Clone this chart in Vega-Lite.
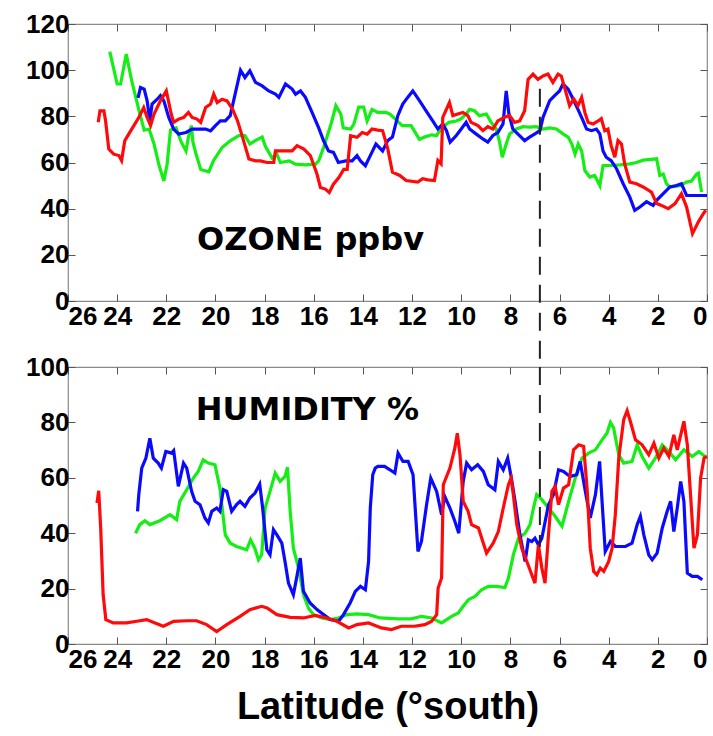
{
"$schema":"https://vega.github.io/schema/vega-lite/v6.json",
"background":"white",
"padding":{"left":25,"top":10,"right":0,"bottom":0},
"bounds":"flush",
"spacing":66,
"datasets":{
"ozone":[
{"c":"g","lat":24.3,"val":108},{"c":"g","lat":24.0,"val":94},{"c":"g","lat":23.86,"val":94},{"c":"g","lat":23.63,"val":107},{"c":"g","lat":23.4,"val":95},{"c":"g","lat":23.1,"val":82},{"c":"g","lat":22.9,"val":74},{"c":"g","lat":22.7,"val":74.5},{"c":"g","lat":22.5,"val":68},{"c":"g","lat":22.3,"val":59},{"c":"g","lat":22.1,"val":52},{"c":"g","lat":21.97,"val":59},{"c":"g","lat":21.83,"val":74},{"c":"g","lat":21.6,"val":75},{"c":"g","lat":21.4,"val":69},{"c":"g","lat":21.2,"val":65},{"c":"g","lat":21.1,"val":71},{"c":"g","lat":20.98,"val":76},{"c":"g","lat":20.92,"val":69},{"c":"g","lat":20.8,"val":64},{"c":"g","lat":20.6,"val":57},{"c":"g","lat":20.27,"val":56},{"c":"g","lat":20.07,"val":61},{"c":"g","lat":19.73,"val":66.5},{"c":"g","lat":19.4,"val":69.4},{"c":"g","lat":19.05,"val":71.6},{"c":"g","lat":18.8,"val":71.6},{"c":"g","lat":18.6,"val":68},{"c":"g","lat":18.4,"val":69.4},{"c":"g","lat":18.1,"val":71},{"c":"g","lat":17.97,"val":67},{"c":"g","lat":17.7,"val":62},{"c":"g","lat":17.5,"val":63.6},{"c":"g","lat":17.36,"val":60},{"c":"g","lat":17.0,"val":60.7},{"c":"g","lat":16.75,"val":59.3},{"c":"g","lat":16.34,"val":59},{"c":"g","lat":15.93,"val":59.3},{"c":"g","lat":15.8,"val":60.7},{"c":"g","lat":15.6,"val":66.5},{"c":"g","lat":15.3,"val":76.6},{"c":"g","lat":15.1,"val":84.6},{"c":"g","lat":14.9,"val":81},{"c":"g","lat":14.8,"val":75},{"c":"g","lat":14.5,"val":74.5},{"c":"g","lat":14.37,"val":76.6},{"c":"g","lat":14.17,"val":84},{"c":"g","lat":13.97,"val":84},{"c":"g","lat":13.83,"val":78},{"c":"g","lat":13.63,"val":83},{"c":"g","lat":13.4,"val":81.7},{"c":"g","lat":13.06,"val":81.7},{"c":"g","lat":12.9,"val":81},{"c":"g","lat":12.7,"val":79},{"c":"g","lat":12.4,"val":76},{"c":"g","lat":12.04,"val":76},{"c":"g","lat":11.7,"val":70},{"c":"g","lat":11.5,"val":71},{"c":"g","lat":11.2,"val":72},{"c":"g","lat":11.0,"val":71.7},{"c":"g","lat":10.8,"val":75},{"c":"g","lat":10.5,"val":77.4},{"c":"g","lat":10.2,"val":78},{"c":"g","lat":10.0,"val":79},{"c":"g","lat":9.8,"val":81},{"c":"g","lat":9.66,"val":83},{"c":"g","lat":9.46,"val":82.4},{"c":"g","lat":9.26,"val":80.3},{"c":"g","lat":8.98,"val":81},{"c":"g","lat":8.78,"val":77.4},{"c":"g","lat":8.58,"val":74.5},{"c":"g","lat":8.44,"val":68.8},{"c":"g","lat":8.33,"val":62.3},{"c":"g","lat":8.17,"val":68},{"c":"g","lat":8.03,"val":72.4},{"c":"g","lat":7.76,"val":74.5},{"c":"g","lat":7.49,"val":75.5},{"c":"g","lat":7.22,"val":75.3},{"c":"g","lat":6.95,"val":75.5},{"c":"g","lat":6.67,"val":74.5},{"c":"g","lat":6.4,"val":75},{"c":"g","lat":6.13,"val":74.5},{"c":"g","lat":5.86,"val":72.4},{"c":"g","lat":5.65,"val":71},{"c":"g","lat":5.5,"val":68},{"c":"g","lat":5.37,"val":63.7},{"c":"g","lat":5.24,"val":68},{"c":"g","lat":5.1,"val":65},{"c":"g","lat":4.97,"val":56.5},{"c":"g","lat":4.77,"val":53.7},{"c":"g","lat":4.57,"val":54.4},{"c":"g","lat":4.36,"val":50},{"c":"g","lat":4.23,"val":58.7},{"c":"g","lat":3.96,"val":58.7},{"c":"g","lat":3.55,"val":59},{"c":"g","lat":3.14,"val":59.4},{"c":"g","lat":2.87,"val":60},{"c":"g","lat":2.6,"val":61},{"c":"g","lat":2.05,"val":61.6},{"c":"g","lat":1.92,"val":54.4},{"c":"g","lat":1.78,"val":55},{"c":"g","lat":1.65,"val":50.8},{"c":"g","lat":1.51,"val":49.4},{"c":"g","lat":1.1,"val":50},{"c":"g","lat":0.83,"val":51.5},{"c":"g","lat":0.63,"val":52},{"c":"g","lat":0.42,"val":55},{"c":"g","lat":0.35,"val":55.4},{"c":"g","lat":0.22,"val":47.2},
{"c":"b","lat":23.15,"val":88},{"c":"b","lat":23.05,"val":92.5},{"c":"b","lat":22.9,"val":91.8},{"c":"b","lat":22.78,"val":86.7},{"c":"b","lat":22.67,"val":78},{"c":"b","lat":22.58,"val":85.3},{"c":"b","lat":22.37,"val":87.4},{"c":"b","lat":22.24,"val":89},{"c":"b","lat":22.1,"val":86.7},{"c":"b","lat":21.9,"val":79.5},{"c":"b","lat":21.7,"val":74.5},{"c":"b","lat":21.5,"val":72.3},{"c":"b","lat":21.2,"val":73},{"c":"b","lat":20.95,"val":74.5},{"c":"b","lat":20.68,"val":74.5},{"c":"b","lat":20.4,"val":74.5},{"c":"b","lat":20.2,"val":73.7},{"c":"b","lat":20.0,"val":76},{"c":"b","lat":19.8,"val":78},{"c":"b","lat":19.6,"val":78},{"c":"b","lat":19.4,"val":80.3},{"c":"b","lat":19.2,"val":89.6},{"c":"b","lat":18.98,"val":100},{"c":"b","lat":18.8,"val":96.8},{"c":"b","lat":18.6,"val":99.7},{"c":"b","lat":18.37,"val":94.7},{"c":"b","lat":18.1,"val":93.2},{"c":"b","lat":17.83,"val":91},{"c":"b","lat":17.56,"val":89.6},{"c":"b","lat":17.42,"val":88.2},{"c":"b","lat":17.15,"val":94},{"c":"b","lat":16.88,"val":91.8},{"c":"b","lat":16.74,"val":89.6},{"c":"b","lat":16.54,"val":91},{"c":"b","lat":16.34,"val":88.2},{"c":"b","lat":16.07,"val":81.7},{"c":"b","lat":15.8,"val":75},{"c":"b","lat":15.6,"val":69.4},{"c":"b","lat":15.4,"val":65},{"c":"b","lat":15.2,"val":64.4},{"c":"b","lat":15.0,"val":60},{"c":"b","lat":14.7,"val":60.7},{"c":"b","lat":14.44,"val":60.7},{"c":"b","lat":14.24,"val":63},{"c":"b","lat":14.1,"val":60.7},{"c":"b","lat":13.9,"val":58.6},{"c":"b","lat":13.7,"val":63},{"c":"b","lat":13.47,"val":68},{"c":"b","lat":13.2,"val":65},{"c":"b","lat":12.99,"val":69.5},{"c":"b","lat":12.8,"val":71},{"c":"b","lat":12.58,"val":80.3},{"c":"b","lat":12.38,"val":85.3},{"c":"b","lat":12.18,"val":88.2},{"c":"b","lat":11.97,"val":91},{"c":"b","lat":11.7,"val":86.8},{"c":"b","lat":11.43,"val":82.4},{"c":"b","lat":11.16,"val":78},{"c":"b","lat":10.95,"val":74.5},{"c":"b","lat":10.75,"val":76.7},{"c":"b","lat":10.6,"val":73.8},{"c":"b","lat":10.45,"val":68.8},{"c":"b","lat":10.2,"val":71.7},{"c":"b","lat":10.0,"val":74.5},{"c":"b","lat":9.8,"val":77.4},{"c":"b","lat":9.66,"val":74.5},{"c":"b","lat":9.4,"val":72.4},{"c":"b","lat":9.12,"val":70.2},{"c":"b","lat":8.92,"val":68.8},{"c":"b","lat":8.71,"val":71.7},{"c":"b","lat":8.51,"val":73},{"c":"b","lat":8.3,"val":76.7},{"c":"b","lat":8.17,"val":91},{"c":"b","lat":8.06,"val":81},{"c":"b","lat":7.9,"val":74.5},{"c":"b","lat":7.7,"val":72.4},{"c":"b","lat":7.42,"val":69.5},{"c":"b","lat":7.22,"val":71},{"c":"b","lat":7.0,"val":72.4},{"c":"b","lat":6.8,"val":73.8},{"c":"b","lat":6.67,"val":79.6},{"c":"b","lat":6.4,"val":86.8},{"c":"b","lat":6.2,"val":89},{"c":"b","lat":6.0,"val":91},{"c":"b","lat":5.86,"val":94},{"c":"b","lat":5.65,"val":91.8},{"c":"b","lat":5.45,"val":87.5},{"c":"b","lat":5.25,"val":83},{"c":"b","lat":5.04,"val":78},{"c":"b","lat":4.9,"val":74.5},{"c":"b","lat":4.7,"val":73.8},{"c":"b","lat":4.5,"val":74.5},{"c":"b","lat":4.36,"val":72.4},{"c":"b","lat":4.23,"val":65},{"c":"b","lat":4.1,"val":62.3},{"c":"b","lat":3.9,"val":60.8},{"c":"b","lat":3.68,"val":57.3},{"c":"b","lat":3.41,"val":50.8},{"c":"b","lat":3.14,"val":45},{"c":"b","lat":2.94,"val":39.3},{"c":"b","lat":2.73,"val":40.7},{"c":"b","lat":2.46,"val":43},{"c":"b","lat":2.19,"val":41.4},{"c":"b","lat":2.05,"val":43.6},{"c":"b","lat":1.78,"val":46.5},{"c":"b","lat":1.51,"val":49.4},{"c":"b","lat":1.24,"val":50},{"c":"b","lat":1.04,"val":50.8},{"c":"b","lat":0.83,"val":45.7},{"c":"b","lat":0.42,"val":45.7},{"c":"b","lat":0.0,"val":45.7},
{"c":"r","lat":24.77,"val":77.4},{"c":"r","lat":24.7,"val":82.4},{"c":"r","lat":24.54,"val":82.4},{"c":"r","lat":24.47,"val":78},{"c":"r","lat":24.34,"val":65.8},{"c":"r","lat":24.14,"val":63.6},{"c":"r","lat":23.93,"val":63},{"c":"r","lat":23.82,"val":60.8},{"c":"r","lat":23.69,"val":69.4},{"c":"r","lat":23.53,"val":72.3},{"c":"r","lat":23.32,"val":76},{"c":"r","lat":23.12,"val":79.5},{"c":"r","lat":22.92,"val":83.8},{"c":"r","lat":22.78,"val":79.5},{"c":"r","lat":22.64,"val":76},{"c":"r","lat":22.5,"val":81},{"c":"r","lat":22.24,"val":86.7},{"c":"r","lat":22.0,"val":91},{"c":"r","lat":21.8,"val":81},{"c":"r","lat":21.7,"val":77.4},{"c":"r","lat":21.5,"val":78.8},{"c":"r","lat":21.3,"val":79.5},{"c":"r","lat":21.1,"val":81.7},{"c":"r","lat":20.95,"val":79.5},{"c":"r","lat":20.75,"val":78.8},{"c":"r","lat":20.6,"val":77.4},{"c":"r","lat":20.4,"val":83.8},{"c":"r","lat":20.2,"val":85.3},{"c":"r","lat":20.07,"val":89.6},{"c":"r","lat":19.93,"val":86},{"c":"r","lat":19.73,"val":87.4},{"c":"r","lat":19.53,"val":86.7},{"c":"r","lat":19.3,"val":83},{"c":"r","lat":19.1,"val":78},{"c":"r","lat":18.9,"val":71},{"c":"r","lat":18.64,"val":61.5},{"c":"r","lat":18.37,"val":60.7},{"c":"r","lat":18.17,"val":60.7},{"c":"r","lat":17.9,"val":60},{"c":"r","lat":17.63,"val":60},{"c":"r","lat":17.56,"val":65},{"c":"r","lat":17.3,"val":65},{"c":"r","lat":16.88,"val":65},{"c":"r","lat":16.68,"val":67.3},{"c":"r","lat":16.4,"val":65.8},{"c":"r","lat":16.14,"val":63},{"c":"r","lat":15.87,"val":55},{"c":"r","lat":15.73,"val":49.2},{"c":"r","lat":15.53,"val":48.5},{"c":"r","lat":15.37,"val":47},{"c":"r","lat":15.2,"val":50.6},{"c":"r","lat":14.98,"val":53.5},{"c":"r","lat":14.78,"val":57},{"c":"r","lat":14.64,"val":57},{"c":"r","lat":14.5,"val":71.6},{"c":"r","lat":14.24,"val":70.9},{"c":"r","lat":14.03,"val":73},{"c":"r","lat":13.83,"val":72.3},{"c":"r","lat":13.63,"val":74.5},{"c":"r","lat":13.4,"val":74},{"c":"r","lat":13.2,"val":73.8},{"c":"r","lat":12.99,"val":66},{"c":"r","lat":12.8,"val":55.8},{"c":"r","lat":12.5,"val":54.4},{"c":"r","lat":12.24,"val":52.2},{"c":"r","lat":11.77,"val":51.5},{"c":"r","lat":11.57,"val":53},{"c":"r","lat":11.36,"val":52.5},{"c":"r","lat":11.09,"val":52.2},{"c":"r","lat":10.95,"val":60.9},{"c":"r","lat":10.82,"val":59.4},{"c":"r","lat":10.75,"val":79.6},{"c":"r","lat":10.48,"val":86},{"c":"r","lat":10.34,"val":80.3},{"c":"r","lat":10.14,"val":81},{"c":"r","lat":9.93,"val":81.7},{"c":"r","lat":9.73,"val":80.3},{"c":"r","lat":9.6,"val":77.4},{"c":"r","lat":9.32,"val":76},{"c":"r","lat":9.12,"val":73.8},{"c":"r","lat":8.92,"val":75.5},{"c":"r","lat":8.71,"val":74.5},{"c":"r","lat":8.51,"val":78},{"c":"r","lat":8.24,"val":79.6},{"c":"r","lat":8.03,"val":80.3},{"c":"r","lat":7.83,"val":77.4},{"c":"r","lat":7.62,"val":78},{"c":"r","lat":7.42,"val":82.4},{"c":"r","lat":7.28,"val":96},{"c":"r","lat":7.08,"val":98.3},{"c":"r","lat":6.88,"val":96},{"c":"r","lat":6.67,"val":97.5},{"c":"r","lat":6.47,"val":98.3},{"c":"r","lat":6.27,"val":94.7},{"c":"r","lat":6.06,"val":98.3},{"c":"r","lat":5.93,"val":97.5},{"c":"r","lat":5.72,"val":89.6},{"c":"r","lat":5.59,"val":84.6},{"c":"r","lat":5.42,"val":87.5},{"c":"r","lat":5.25,"val":84.6},{"c":"r","lat":5.1,"val":88.2},{"c":"r","lat":4.97,"val":81.7},{"c":"r","lat":4.84,"val":77.4},{"c":"r","lat":4.63,"val":76.7},{"c":"r","lat":4.43,"val":78},{"c":"r","lat":4.3,"val":79},{"c":"r","lat":4.16,"val":73.8},{"c":"r","lat":4.03,"val":74.5},{"c":"r","lat":3.9,"val":67.3},{"c":"r","lat":3.75,"val":62.3},{"c":"r","lat":3.62,"val":69.5},{"c":"r","lat":3.48,"val":68},{"c":"r","lat":3.35,"val":59.4},{"c":"r","lat":3.14,"val":51.5},{"c":"r","lat":2.87,"val":50.8},{"c":"r","lat":2.6,"val":49.4},{"c":"r","lat":2.26,"val":47.2},{"c":"r","lat":2.05,"val":42.2},{"c":"r","lat":1.85,"val":41.4},{"c":"r","lat":1.58,"val":40},{"c":"r","lat":1.3,"val":42.2},{"c":"r","lat":1.04,"val":46.5},{"c":"r","lat":0.83,"val":40.7},{"c":"r","lat":0.59,"val":29.2},{"c":"r","lat":0.35,"val":34.3},{"c":"r","lat":0.15,"val":37.8},{"c":"r","lat":0.05,"val":39.3}
],
"humidity":[
{"c":"g","lat":23.25,"val":40},{"c":"g","lat":23.08,"val":43.1},{"c":"g","lat":22.87,"val":44.5},{"c":"g","lat":22.67,"val":43.1},{"c":"g","lat":22.26,"val":44.5},{"c":"g","lat":21.85,"val":46.7},{"c":"g","lat":21.58,"val":44.9},{"c":"g","lat":21.45,"val":51.5},{"c":"g","lat":21.17,"val":55.7},{"c":"g","lat":20.9,"val":59.9},{"c":"g","lat":20.7,"val":62.3},{"c":"g","lat":20.5,"val":66.5},{"c":"g","lat":20.29,"val":65.3},{"c":"g","lat":20.02,"val":64.7},{"c":"g","lat":19.82,"val":56.3},{"c":"g","lat":19.6,"val":39.4},{"c":"g","lat":19.4,"val":36.4},{"c":"g","lat":19.14,"val":35.2},{"c":"g","lat":18.73,"val":34},{"c":"g","lat":18.57,"val":37.6},{"c":"g","lat":18.4,"val":34.6},{"c":"g","lat":18.25,"val":30.4},{"c":"g","lat":18.12,"val":32.2},{"c":"g","lat":17.98,"val":49.1},{"c":"g","lat":17.78,"val":55.1},{"c":"g","lat":17.57,"val":61.7},{"c":"g","lat":17.37,"val":58.7},{"c":"g","lat":17.17,"val":60.5},{"c":"g","lat":17.07,"val":63.8},{"c":"g","lat":16.96,"val":47.9},{"c":"g","lat":16.83,"val":34.6},{"c":"g","lat":16.62,"val":27.4},{"c":"g","lat":16.42,"val":17.8},{"c":"g","lat":16.22,"val":13},{"c":"g","lat":16.01,"val":10.6},{"c":"g","lat":15.67,"val":9.4},{"c":"g","lat":15.33,"val":8.8},{"c":"g","lat":14.99,"val":9.4},{"c":"g","lat":14.65,"val":10.6},{"c":"g","lat":14.24,"val":10.9},{"c":"g","lat":13.77,"val":10.6},{"c":"g","lat":13.3,"val":9.4},{"c":"g","lat":12.57,"val":9.1},{"c":"g","lat":12.03,"val":9.1},{"c":"g","lat":11.62,"val":10},{"c":"g","lat":11.2,"val":9.4},{"c":"g","lat":10.8,"val":7.6},{"c":"g","lat":10.39,"val":10},{"c":"g","lat":10.12,"val":11.2},{"c":"g","lat":9.92,"val":13.6},{"c":"g","lat":9.71,"val":16},{"c":"g","lat":9.44,"val":17.2},{"c":"g","lat":9.17,"val":19.6},{"c":"g","lat":8.9,"val":20.8},{"c":"g","lat":8.56,"val":20.8},{"c":"g","lat":8.22,"val":20.4},{"c":"g","lat":8.08,"val":23.8},{"c":"g","lat":7.88,"val":32.2},{"c":"g","lat":7.67,"val":38.2},{"c":"g","lat":7.4,"val":40},{"c":"g","lat":7.2,"val":43.1},{"c":"g","lat":7.06,"val":49.1},{"c":"g","lat":6.93,"val":53.9},{"c":"g","lat":6.72,"val":52.1},{"c":"g","lat":6.45,"val":49.1},{"c":"g","lat":6.18,"val":46.1},{"c":"g","lat":5.9,"val":42.5},{"c":"g","lat":5.63,"val":51.5},{"c":"g","lat":5.36,"val":59.9},{"c":"g","lat":5.09,"val":67.1},{"c":"g","lat":4.82,"val":68.9},{"c":"g","lat":4.54,"val":70.1},{"c":"g","lat":4.27,"val":73.7},{"c":"g","lat":4.07,"val":76.1},{"c":"g","lat":3.93,"val":80},{"c":"g","lat":3.8,"val":78},{"c":"g","lat":3.59,"val":68.3},{"c":"g","lat":3.39,"val":65.3},{"c":"g","lat":3.05,"val":65.9},{"c":"g","lat":2.84,"val":71.9},{"c":"g","lat":2.64,"val":67.7},{"c":"g","lat":2.37,"val":63.5},{"c":"g","lat":2.1,"val":67.1},{"c":"g","lat":1.82,"val":71.9},{"c":"g","lat":1.55,"val":69.5},{"c":"g","lat":1.28,"val":66.5},{"c":"g","lat":0.94,"val":70.1},{"c":"g","lat":0.6,"val":67.7},{"c":"g","lat":0.33,"val":69.5},{"c":"g","lat":0.0,"val":67.1},
{"c":"b","lat":23.17,"val":47.9},{"c":"b","lat":23.12,"val":53.9},{"c":"b","lat":23.0,"val":63.5},{"c":"b","lat":22.83,"val":67.1},{"c":"b","lat":22.67,"val":74.3},{"c":"b","lat":22.53,"val":67.1},{"c":"b","lat":22.33,"val":65.3},{"c":"b","lat":22.2,"val":63.5},{"c":"b","lat":22.02,"val":69.5},{"c":"b","lat":21.79,"val":68.9},{"c":"b","lat":21.7,"val":69.8},{"c":"b","lat":21.51,"val":56.9},{"c":"b","lat":21.3,"val":65.3},{"c":"b","lat":21.17,"val":63.5},{"c":"b","lat":20.97,"val":55.1},{"c":"b","lat":20.83,"val":51.5},{"c":"b","lat":20.63,"val":50.3},{"c":"b","lat":20.43,"val":45.5},{"c":"b","lat":20.29,"val":43.7},{"c":"b","lat":20.15,"val":47.9},{"c":"b","lat":19.95,"val":49.1},{"c":"b","lat":19.82,"val":47.9},{"c":"b","lat":19.68,"val":55.7},{"c":"b","lat":19.54,"val":55.1},{"c":"b","lat":19.34,"val":47.9},{"c":"b","lat":19.14,"val":50.3},{"c":"b","lat":19.0,"val":51.5},{"c":"b","lat":18.8,"val":49.7},{"c":"b","lat":18.6,"val":52.7},{"c":"b","lat":18.39,"val":54.5},{"c":"b","lat":18.2,"val":57.7},{"c":"b","lat":18.08,"val":49.1},{"c":"b","lat":17.91,"val":34},{"c":"b","lat":17.78,"val":32.2},{"c":"b","lat":17.64,"val":41.3},{"c":"b","lat":17.5,"val":39.4},{"c":"b","lat":17.3,"val":36.4},{"c":"b","lat":17.17,"val":29.8},{"c":"b","lat":17.03,"val":22},{"c":"b","lat":16.83,"val":17.8},{"c":"b","lat":16.7,"val":23.8},{"c":"b","lat":16.55,"val":31},{"c":"b","lat":16.42,"val":19},{"c":"b","lat":16.15,"val":14.8},{"c":"b","lat":15.87,"val":12.4},{"c":"b","lat":15.6,"val":10.6},{"c":"b","lat":15.33,"val":8.8},{"c":"b","lat":14.99,"val":8.2},{"c":"b","lat":14.79,"val":10.6},{"c":"b","lat":14.52,"val":14.8},{"c":"b","lat":14.31,"val":19},{"c":"b","lat":14.1,"val":20.8},{"c":"b","lat":13.9,"val":19.6},{"c":"b","lat":13.77,"val":29.8},{"c":"b","lat":13.7,"val":49.1},{"c":"b","lat":13.6,"val":61.1},{"c":"b","lat":13.5,"val":63.5},{"c":"b","lat":13.39,"val":64.1},{"c":"b","lat":13.12,"val":64.1},{"c":"b","lat":12.9,"val":62.9},{"c":"b","lat":12.7,"val":61.7},{"c":"b","lat":12.57,"val":68.9},{"c":"b","lat":12.37,"val":65.9},{"c":"b","lat":12.16,"val":65.9},{"c":"b","lat":11.96,"val":61.1},{"c":"b","lat":11.76,"val":33.4},{"c":"b","lat":11.62,"val":37},{"c":"b","lat":11.41,"val":50.3},{"c":"b","lat":11.24,"val":59.9},{"c":"b","lat":11.0,"val":55.1},{"c":"b","lat":10.8,"val":46.7},{"c":"b","lat":10.67,"val":53.3},{"c":"b","lat":10.46,"val":49.1},{"c":"b","lat":10.26,"val":44.3},{"c":"b","lat":10.1,"val":40},{"c":"b","lat":9.92,"val":58.7},{"c":"b","lat":9.78,"val":65.3},{"c":"b","lat":9.58,"val":62.9},{"c":"b","lat":9.33,"val":64.7},{"c":"b","lat":9.1,"val":62.3},{"c":"b","lat":8.9,"val":57.5},{"c":"b","lat":8.63,"val":55.7},{"c":"b","lat":8.49,"val":65.9},{"c":"b","lat":8.29,"val":62.9},{"c":"b","lat":8.11,"val":67.1},{"c":"b","lat":7.97,"val":60.5},{"c":"b","lat":7.81,"val":51.5},{"c":"b","lat":7.61,"val":39.4},{"c":"b","lat":7.4,"val":29.8},{"c":"b","lat":7.27,"val":37.6},{"c":"b","lat":7.13,"val":37},{"c":"b","lat":7.0,"val":38.2},{"c":"b","lat":6.86,"val":35.8},{"c":"b","lat":6.72,"val":38.2},{"c":"b","lat":6.45,"val":50.3},{"c":"b","lat":6.25,"val":53.9},{"c":"b","lat":6.04,"val":62.9},{"c":"b","lat":5.84,"val":62.3},{"c":"b","lat":5.57,"val":60.5},{"c":"b","lat":5.3,"val":61.1},{"c":"b","lat":5.16,"val":65.9},{"c":"b","lat":4.95,"val":55.1},{"c":"b","lat":4.75,"val":45.5},{"c":"b","lat":4.54,"val":53.9},{"c":"b","lat":4.37,"val":65.9},{"c":"b","lat":4.27,"val":51.5},{"c":"b","lat":4.14,"val":33.4},{"c":"b","lat":3.93,"val":37},{"c":"b","lat":3.73,"val":35.2},{"c":"b","lat":3.32,"val":35.2},{"c":"b","lat":3.05,"val":36.4},{"c":"b","lat":2.84,"val":43.1},{"c":"b","lat":2.71,"val":46.1},{"c":"b","lat":2.57,"val":39.4},{"c":"b","lat":2.37,"val":32.2},{"c":"b","lat":2.23,"val":30.4},{"c":"b","lat":2.03,"val":32.8},{"c":"b","lat":1.82,"val":41.9},{"c":"b","lat":1.62,"val":47.9},{"c":"b","lat":1.48,"val":51.5},{"c":"b","lat":1.35,"val":40.6},{"c":"b","lat":1.21,"val":49.1},{"c":"b","lat":1.07,"val":58.7},{"c":"b","lat":0.94,"val":51.5},{"c":"b","lat":0.8,"val":25.6},{"c":"b","lat":0.6,"val":24.4},{"c":"b","lat":0.39,"val":24.4},{"c":"b","lat":0.19,"val":23.2},
{"c":"r","lat":24.82,"val":50.9},{"c":"r","lat":24.75,"val":55.3},{"c":"r","lat":24.67,"val":41.9},{"c":"r","lat":24.57,"val":17.8},{"c":"r","lat":24.46,"val":8.8},{"c":"r","lat":24.16,"val":7.6},{"c":"r","lat":23.62,"val":7.6},{"c":"r","lat":23.2,"val":8.2},{"c":"r","lat":22.8,"val":8.8},{"c":"r","lat":22.46,"val":7.6},{"c":"r","lat":22.12,"val":6.4},{"c":"r","lat":21.7,"val":8.2},{"c":"r","lat":21.17,"val":8.4},{"c":"r","lat":20.77,"val":8.4},{"c":"r","lat":20.36,"val":7.0},{"c":"r","lat":19.95,"val":4.5},{"c":"r","lat":19.54,"val":7.0},{"c":"r","lat":19.0,"val":10},{"c":"r","lat":18.6,"val":12.4},{"c":"r","lat":18.12,"val":13.6},{"c":"r","lat":17.9,"val":13},{"c":"r","lat":17.5,"val":10.6},{"c":"r","lat":16.96,"val":9.6},{"c":"r","lat":16.42,"val":9.4},{"c":"r","lat":15.94,"val":10.3},{"c":"r","lat":15.47,"val":9.4},{"c":"r","lat":15.06,"val":8.2},{"c":"r","lat":14.58,"val":5.8},{"c":"r","lat":14.24,"val":7},{"c":"r","lat":13.77,"val":7.6},{"c":"r","lat":13.25,"val":5.8},{"c":"r","lat":12.84,"val":5.2},{"c":"r","lat":12.44,"val":6.4},{"c":"r","lat":11.9,"val":6.4},{"c":"r","lat":11.48,"val":7},{"c":"r","lat":11.2,"val":8.2},{"c":"r","lat":11.0,"val":10.6},{"c":"r","lat":10.94,"val":20.2},{"c":"r","lat":10.8,"val":23.8},{"c":"r","lat":10.73,"val":57.5},{"c":"r","lat":10.46,"val":63.5},{"c":"r","lat":10.26,"val":70.7},{"c":"r","lat":10.16,"val":76.1},{"c":"r","lat":10.05,"val":68.3},{"c":"r","lat":9.92,"val":51.5},{"c":"r","lat":9.72,"val":47.9},{"c":"r","lat":9.58,"val":43.1},{"c":"r","lat":9.3,"val":41.9},{"c":"r","lat":9.1,"val":36.4},{"c":"r","lat":8.97,"val":32.8},{"c":"r","lat":8.7,"val":36.4},{"c":"r","lat":8.49,"val":40.6},{"c":"r","lat":8.29,"val":49.1},{"c":"r","lat":8.08,"val":57.5},{"c":"r","lat":7.97,"val":59.9},{"c":"r","lat":7.88,"val":53.9},{"c":"r","lat":7.74,"val":43.1},{"c":"r","lat":7.54,"val":34.6},{"c":"r","lat":7.33,"val":29.8},{"c":"r","lat":7.13,"val":25},{"c":"r","lat":7.0,"val":22},{"c":"r","lat":6.86,"val":35.8},{"c":"r","lat":6.72,"val":27.4},{"c":"r","lat":6.59,"val":22},{"c":"r","lat":6.45,"val":39.4},{"c":"r","lat":6.31,"val":55.1},{"c":"r","lat":6.18,"val":56.9},{"c":"r","lat":6.04,"val":50.3},{"c":"r","lat":5.84,"val":56.3},{"c":"r","lat":5.63,"val":57.5},{"c":"r","lat":5.43,"val":70.1},{"c":"r","lat":5.22,"val":71.9},{"c":"r","lat":5.02,"val":71.3},{"c":"r","lat":4.88,"val":56.3},{"c":"r","lat":4.75,"val":34.6},{"c":"r","lat":4.61,"val":26.2},{"c":"r","lat":4.48,"val":25},{"c":"r","lat":4.34,"val":27.4},{"c":"r","lat":4.2,"val":26.2},{"c":"r","lat":4.0,"val":29.8},{"c":"r","lat":3.86,"val":34.6},{"c":"r","lat":3.73,"val":46.7},{"c":"r","lat":3.59,"val":67.1},{"c":"r","lat":3.39,"val":81},{"c":"r","lat":3.25,"val":84.2},{"c":"r","lat":3.12,"val":80.4},{"c":"r","lat":2.91,"val":73.7},{"c":"r","lat":2.64,"val":71.9},{"c":"r","lat":2.37,"val":68.3},{"c":"r","lat":2.16,"val":72.5},{"c":"r","lat":1.96,"val":67.1},{"c":"r","lat":1.76,"val":70.7},{"c":"r","lat":1.55,"val":67.7},{"c":"r","lat":1.35,"val":75.5},{"c":"r","lat":1.21,"val":70.1},{"c":"r","lat":0.94,"val":80.4},{"c":"r","lat":0.8,"val":71.9},{"c":"r","lat":0.67,"val":53.9},{"c":"r","lat":0.53,"val":34.6},{"c":"r","lat":0.39,"val":39.4},{"c":"r","lat":0.26,"val":59.9},{"c":"r","lat":0.12,"val":67.1},{"c":"r","lat":0.0,"val":67.7}
],
"vtop":[{"lat":6.8,"y1":92,"y2":-28}],
"vbot":[{"lat":6.8,"y1":100,"y2":35}],
"ltop":[{"lat":20.75,"val":22,"label":"OZONE ppbv"}],
"lbot":[{"lat":20.8,"val":81,"label":"HUMIDITY %"}]
},
"vconcat":[
{
"width":639,"height":277,
"layer":[
{"data":{"name":"ozone"},"mark":{"type":"line","strokeWidth":3.2},
"encoding":{
"x":{"field":"lat","type":"quantitative","scale":{"domain":[0,26],"reverse":true,"nice":false,"zero":false},"axis":{"orient":"bottom","title":null,"values":[0,2,4,6,8,10,12,14,16,18,20,22,24,26]}},
"y":{"field":"val","type":"quantitative","scale":{"domain":[0,120],"nice":false},"axis":{"orient":"left","title":null,"values":[0,20,40,60,80,100,120]}},
"color":{"field":"c","type":"nominal","scale":{"domain":["g","b","r"],"range":["#14ee14","#0a0aff","#ff0a0a"]},"legend":null}}},
{"data":{"name":"vtop"},"mark":{"type":"rule","strokeDash":[18,10],"strokeWidth":2,"color":"#222222"},
"encoding":{
"x":{"field":"lat","type":"quantitative","scale":{"domain":[0,26],"reverse":true,"nice":false,"zero":false},"axis":{"orient":"top","title":null,"labels":false,"values":[0,2,4,6,8,10,12,14,16,18,20,22,24,26]}},
"y":{"field":"y1","type":"quantitative","scale":{"domain":[0,120],"nice":false},"axis":{"orient":"right","title":null,"labels":false,"values":[0,20,40,60,80,100,120]}},
"y2":{"field":"y2"}}},
{"data":{"name":"ltop"},"mark":{"type":"text","align":"left","baseline":"alphabetic","font":"DejaVu Sans","fontWeight":"bold","fontSize":32,"color":"#000000"},
"encoding":{
"x":{"field":"lat","type":"quantitative","axis":null},
"y":{"field":"val","type":"quantitative","axis":null},
"text":{"field":"label"}}}
],
"resolve":{"axis":{"x":"independent","y":"independent"}}
},
{
"width":639,"height":277,
"layer":[
{"data":{"name":"humidity"},"mark":{"type":"line","strokeWidth":3.2},
"encoding":{
"x":{"field":"lat","type":"quantitative","scale":{"domain":[0,26],"reverse":true,"nice":false,"zero":false},"axis":{"orient":"bottom","title":"Latitude (°south)","titlePadding":16,"values":[0,2,4,6,8,10,12,14,16,18,20,22,24,26]}},
"y":{"field":"val","type":"quantitative","scale":{"domain":[0,100],"nice":false},"axis":{"orient":"left","title":null,"values":[0,20,40,60,80,100]}},
"color":{"field":"c","type":"nominal","scale":{"domain":["g","b","r"],"range":["#14ee14","#0a0aff","#ff0a0a"]},"legend":null}}},
{"data":{"name":"vbot"},"mark":{"type":"rule","strokeDash":[18,10],"strokeWidth":2,"color":"#222222"},
"encoding":{
"x":{"field":"lat","type":"quantitative","scale":{"domain":[0,26],"reverse":true,"nice":false,"zero":false},"axis":{"orient":"top","title":null,"labels":false,"values":[0,2,4,6,8,10,12,14,16,18,20,22,24,26]}},
"y":{"field":"y1","type":"quantitative","scale":{"domain":[0,100],"nice":false},"axis":{"orient":"right","title":null,"labels":false,"values":[0,20,40,60,80,100]}},
"y2":{"field":"y2"}}},
{"data":{"name":"lbot"},"mark":{"type":"text","align":"left","baseline":"alphabetic","font":"DejaVu Sans","fontWeight":"bold","fontSize":32,"color":"#000000"},
"encoding":{
"x":{"field":"lat","type":"quantitative","axis":null},
"y":{"field":"val","type":"quantitative","axis":null},
"text":{"field":"label"}}}
],
"resolve":{"axis":{"x":"independent","y":"independent"}}
}
],
"config":{
"view":{"stroke":"#8a8a8a","strokeWidth":1.2},
"axis":{"domain":false,"grid":false,"ticks":true,"tickSize":-7,"tickColor":"#555555","tickWidth":1,
"labelFont":"Liberation Sans","labelFontWeight":"bold","labelFontSize":26,"labelColor":"#000000","labelPadding":6,
"titleFont":"Liberation Sans","titleFontWeight":"bold","titleFontSize":38,"titleColor":"#000000","titlePadding":10},
"axisBottom":{"labelPadding":9}
}
}
